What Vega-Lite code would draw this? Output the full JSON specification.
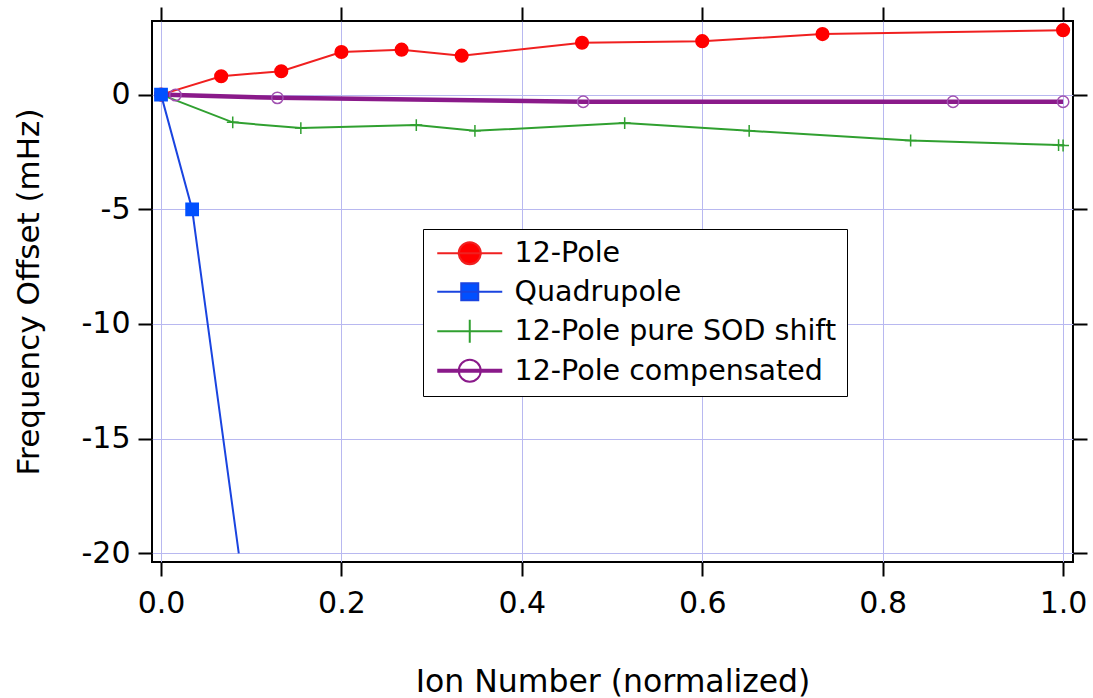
{
  "$schema": "https://vega.github.io/schema/vega-lite/v6.json",
  "width": 921,
  "height": 541,
  "autosize": {"type": "none"},
  "padding": {"left": 152, "top": 21, "right": 20, "bottom": 136},
  "background": "white",
  "config": {
    "view": {"stroke": "black", "strokeWidth": 2},
    "font": "DejaVu Sans",
    "axis": {
      "labelFont": "DejaVu Sans",
      "labelFontSize": 30,
      "labelColor": "black",
      "titleFont": "DejaVu Sans",
      "titleFontSize": 31.5,
      "titleFontWeight": "normal",
      "titleColor": "black",
      "tickColor": "black",
      "tickWidth": 2,
      "tickSize": 14,
      "domain": false,
      "gridColor": "#b8b8f0",
      "gridWidth": 1,
      "gridOpacity": 1
    },
    "legend": {
      "title": null,
      "orient": "none",
      "legendX": 271,
      "legendY": 208,
      "direction": "vertical",
      "padding": 10,
      "strokeColor": "black",
      "fillColor": "white",
      "labelFont": "DejaVu Sans",
      "labelFontSize": 28.5,
      "labelColor": "black",
      "labelLimit": 0,
      "symbolSize": 400,
      "symbolStrokeWidth": 2,
      "symbolOpacity": 1,
      "labelOffset": 53,
      "rowPadding": 8.5
    }
  },
  "data": {
    "values": [
      {"series": "12-Pole", "x": 0.0, "y": 0.0},
      {"series": "12-Pole", "x": 0.0667, "y": 0.8},
      {"series": "12-Pole", "x": 0.1333, "y": 1.02},
      {"series": "12-Pole", "x": 0.2, "y": 1.86},
      {"series": "12-Pole", "x": 0.2667, "y": 1.96},
      {"series": "12-Pole", "x": 0.3333, "y": 1.7},
      {"series": "12-Pole", "x": 0.4667, "y": 2.26},
      {"series": "12-Pole", "x": 0.6, "y": 2.33},
      {"series": "12-Pole", "x": 0.7333, "y": 2.64},
      {"series": "12-Pole", "x": 1.0, "y": 2.81},
      {"series": "12-Pole pure SOD shift", "x": 0.0, "y": 0.0},
      {"series": "12-Pole pure SOD shift", "x": 0.0795, "y": -1.21},
      {"series": "12-Pole pure SOD shift", "x": 0.155, "y": -1.46},
      {"series": "12-Pole pure SOD shift", "x": 0.283, "y": -1.33},
      {"series": "12-Pole pure SOD shift", "x": 0.348, "y": -1.58},
      {"series": "12-Pole pure SOD shift", "x": 0.514, "y": -1.24},
      {"series": "12-Pole pure SOD shift", "x": 0.652, "y": -1.58},
      {"series": "12-Pole pure SOD shift", "x": 0.831, "y": -2.0},
      {"series": "12-Pole pure SOD shift", "x": 0.995, "y": -2.2},
      {"series": "12-Pole pure SOD shift", "x": 1.0, "y": -2.22},
      {"series": "12-Pole compensated", "x": 0.0, "y": 0.0},
      {"series": "12-Pole compensated", "x": 0.016, "y": -0.02},
      {"series": "12-Pole compensated", "x": 0.129, "y": -0.14},
      {"series": "12-Pole compensated", "x": 0.468, "y": -0.31},
      {"series": "12-Pole compensated", "x": 0.878, "y": -0.31},
      {"series": "12-Pole compensated", "x": 1.0, "y": -0.31},
      {"series": "Quadrupole", "x": 0.0, "y": 0.0},
      {"series": "Quadrupole", "x": 0.0345, "y": -5.0},
      {"series": "Quadrupole", "x": 0.0862, "y": -20.0}
    ]
  },
  "layer": [
    {
      "transform": [{"filter": "datum.series !== '12-Pole compensated'"}],
      "mark": {"type": "line", "clip": true, "strokeWidth": 2},
      "encoding": {
        "x": {
          "field": "x", "type": "quantitative",
          "scale": {"domain": [-0.01, 1.011], "nice": false, "zero": false},
          "axis": {
            "orient": "bottom", "title": "Ion Number (normalized)",
            "values": [0, 0.2, 0.4, 0.6, 0.8, 1.0], "format": ".1f",
            "labelPadding": 12, "titlePadding": 48, "grid": true
          }
        },
        "y": {
          "field": "y", "type": "quantitative",
          "scale": {"domain": [-20.38, 3.21], "nice": false, "zero": false},
          "axis": {
            "orient": "left", "title": "Frequency Offset (mHz)",
            "values": [-20, -15, -10, -5, 0], "labelExpr": "'' + datum.value",
            "labelPadding": 8, "titlePadding": 36, "titleFontSize": 31, "grid": true
          }
        },
        "color": {
          "field": "series", "type": "nominal",
          "scale": {
            "domain": ["12-Pole", "Quadrupole", "12-Pole pure SOD shift", "12-Pole compensated"],
            "range": ["#f02020", "#1a44e0", "#30a030", "#8a1a8a"]
          },
          "legend": null
        }
      }
    },
    {
      "transform": [{"filter": "datum.series === '12-Pole compensated'"}],
      "mark": {"type": "line", "clip": true, "strokeWidth": 4.5},
      "encoding": {
        "x": {"field": "x", "type": "quantitative", "axis": null},
        "y": {"field": "y", "type": "quantitative", "axis": null},
        "color": {"field": "series", "type": "nominal", "legend": null}
      }
    },
    {
      "transform": [{"filter": "datum.series !== 'Quadrupole' || datum.y > -19.9"}],
      "mark": {"type": "point", "opacity": 1, "strokeWidth": 1.5},
      "encoding": {
        "x": {
          "field": "x", "type": "quantitative",
          "axis": {
            "orient": "top", "title": null, "labels": false, "grid": false,
            "values": [0, 0.2, 0.4, 0.6, 0.8, 1.0]
          }
        },
        "y": {
          "field": "y", "type": "quantitative",
          "axis": {
            "orient": "right", "title": null, "labels": false, "grid": false,
            "values": [-20, -15, -10, -5, 0]
          }
        },
        "shape": {
          "field": "series", "type": "nominal",
          "scale": {
            "domain": ["12-Pole", "Quadrupole", "12-Pole pure SOD shift", "12-Pole compensated"],
            "range": ["circle", "square", "M0,-1V1M-1,0H1", "circle"]
          },
          "legend": null
        },
        "size": {
          "field": "series", "type": "nominal",
          "scale": {
            "domain": ["12-Pole", "Quadrupole", "12-Pole pure SOD shift", "12-Pole compensated"],
            "range": [160, 130, 170, 130]
          },
          "legend": null
        },
        "fill": {
          "field": "series", "type": "nominal",
          "scale": {
            "domain": ["12-Pole", "Quadrupole", "12-Pole pure SOD shift", "12-Pole compensated"],
            "range": ["#ff0000", "#0050ff", "transparent", "transparent"]
          },
          "legend": null
        },
        "stroke": {
          "field": "series", "type": "nominal",
          "scale": {
            "domain": ["12-Pole", "Quadrupole", "12-Pole pure SOD shift", "12-Pole compensated"],
            "range": ["#ff0000", "#0050ff", "#30a030", "#a050b0"]
          },
          "legend": null
        }
      }
    },
    {
      "transform": [{"filter": "false"}],
      "mark": {"type": "point", "opacity": 1, "strokeWidth": 2},
      "encoding": {
        "shape": {
          "field": "series", "type": "nominal",
          "scale": {
            "domain": ["12-Pole", "Quadrupole", "12-Pole pure SOD shift", "12-Pole compensated"],
            "range": [
              "M-1,0H5.5M3.35,0A1.1,1.1 0 1,1 1.15,0A1.1,1.1 0 1,1 3.35,0Z",
              "M-1,0H5.5M1.4,-0.85H3.1V0.85H1.4Z",
              "M-1,0H5.5M2.25,-1.15V1.15",
              "M-1,-0.1H5.5M-1,0H5.5M-1,0.1H5.5M3.35,0A1.1,1.1 0 1,1 1.15,0A1.1,1.1 0 1,1 3.35,0Z"
            ]
          },
          "legend": {}
        },
        "fill": {
          "field": "series", "type": "nominal",
          "scale": {
            "domain": ["12-Pole", "Quadrupole", "12-Pole pure SOD shift", "12-Pole compensated"],
            "range": ["#ff0000", "#0050ff", "transparent", "transparent"]
          },
          "legend": {}
        },
        "stroke": {
          "field": "series", "type": "nominal",
          "scale": {
            "domain": ["12-Pole", "Quadrupole", "12-Pole pure SOD shift", "12-Pole compensated"],
            "range": ["#f02020", "#1a44e0", "#30a030", "#8a1a8a"]
          },
          "legend": {}
        }
      }
    }
  ],
  "resolve": {
    "axis": {"x": "independent", "y": "independent"},
    "scale": {"shape": "independent", "fill": "independent", "stroke": "independent"},
    "legend": {"shape": "independent", "fill": "independent", "stroke": "independent"}
  }
}
